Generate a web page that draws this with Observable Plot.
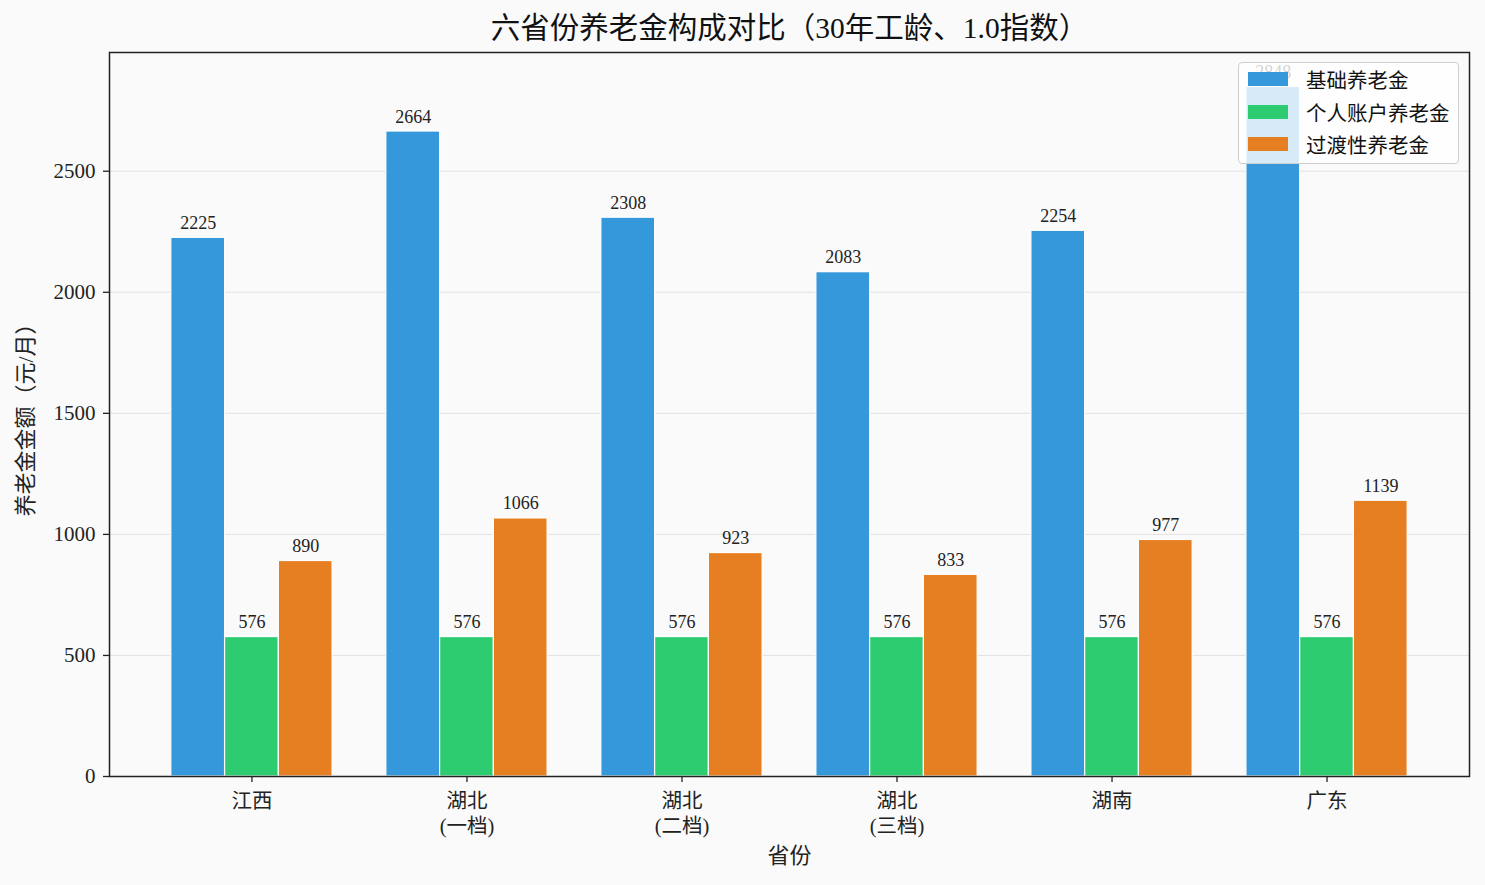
<!DOCTYPE html>
<html><head><meta charset="utf-8">
<script src="https://cdn.jsdelivr.net/npm/d3@7"></script>
<script src="https://cdn.jsdelivr.net/npm/@observablehq/plot@0.6"></script>
<style>
body{margin:0;background:#fafafa;font-family:"Liberation Serif","Noto Sans CJK SC",serif;color:#111;}
#wrap{position:relative;width:1485px;height:885px;overflow:hidden;}
#title{height:36px;padding-top:10px;line-height:37px;font-size:29.5px;text-align:center;padding-left:94px;}
#legend{position:absolute;left:1238px;top:62px;width:221px;height:102px;box-sizing:border-box;background:rgba(255,255,255,0.8);border:1px solid #cfcfcf;border-radius:4px;}
.row{position:absolute;left:9px;height:32px;display:flex;align-items:center;font-size:20.5px;}
.sw{width:40px;height:14px;margin-right:18px;}
</style></head>
<body>
<div id="wrap">
<div id="title">六省份养老金构成对比（30年工龄、1.0指数）</div>
<div id="chart"></div>
<div id="legend"></div>
</div>
<script>
const provinces = ["江西", "湖北\n(一档)", "湖北\n(二档)", "湖北\n(三档)", "湖南", "广东"];
const seriesNames = ["基础养老金", "个人账户养老金", "过渡性养老金"];
const basicPension = [2225, 2664, 2308, 2083, 2254, 2848];
const personalPension = [576, 576, 576, 576, 576, 576];
const transitionalPension = [890, 1066, 923, 833, 977, 1139];
const seriesColors = ["#3498db", "#2ecc71", "#e67e22"];
const yTicks = [0, 500, 1000, 1500, 2000, 2500];

const seriesValues = [basicPension, personalPension, transitionalPension];
const barW = 0.25;
const rows = [];
provinces.forEach((p, i) => {
  seriesValues.forEach((vals, k) => {
    rows.push({i, k, series: seriesNames[k], value: vals[i], center: i + (k - 1) * barW});
  });
});
const nCat = provinces.length;
const span = (nCat - 1) + 3 * barW;
const xDomain = [-1.5 * barW - span * 0.05, (nCat - 1) + 1.5 * barW + span * 0.05];
const yMax = d3.max(rows, d => d.value) * 1.05;

const fontFam = '"Liberation Serif","Noto Sans CJK SC",serif';
const chart = Plot.plot({
  width: 1485,
  height: 839,
  marginTop: 6,
  marginBottom: 109,
  marginLeft: 109,
  marginRight: 16,
  style: {background: "transparent", fontFamily: fontFam, fontSize: "20px", color: "#222"},
  x: {domain: xDomain},
  y: {domain: [0, yMax]},
  color: {domain: seriesNames, range: seriesColors},
  marks: [
    Plot.gridY(yTicks, {stroke: "#e2e2e2", strokeOpacity: 1, strokeWidth: 1}),
    Plot.rect(rows, {x1: d => d.center - barW / 2, x2: d => d.center + barW / 2, y1: 0, y2: "value", fill: "series", stroke: "white", strokeWidth: 1.2}),
    Plot.text(rows, {x: "center", y: "value", text: d => String(d.value), lineAnchor: "bottom", dy: -9, fontSize: 18, fill: "#222"}),
    Plot.frame({stroke: "#222", strokeWidth: 1.5}),
    Plot.axisY(yTicks, {tickSize: 6, tickPadding: 8, label: null, tickFormat: d => String(d), fontSize: 21, stroke: "#222", strokeWidth: 1.3}),
    Plot.axisX(d3.range(nCat), {tickSize: 6, tickPadding: 8, tickFormat: i => provinces[i], label: null, lineHeight: 1.2, fontSize: 20.5, stroke: "#222", strokeWidth: 1.3}),
    Plot.text(["省份"], {frameAnchor: "bottom", dy: 79, text: d => d, fontSize: 22, lineAnchor: "middle", fill: "#222"}),
    Plot.text(["养老金金额（元/月）"], {frameAnchor: "left", dx: -84, rotate: -90, textAnchor: "middle", text: d => d, fontSize: 22, lineAnchor: "middle", fill: "#222"})
  ]
});
document.getElementById("chart").appendChild(chart);

const legend = document.getElementById("legend");
seriesNames.forEach((name, k) => {
  const row = document.createElement("div");
  row.className = "row";
  row.style.top = (0 + k * 32.5) + "px";
  const sw = document.createElement("div");
  sw.className = "sw";
  sw.style.background = seriesColors[k];
  const label = document.createElement("span");
  label.textContent = name;
  row.appendChild(sw);
  row.appendChild(label);
  legend.appendChild(row);
});
</script>
</body></html>
